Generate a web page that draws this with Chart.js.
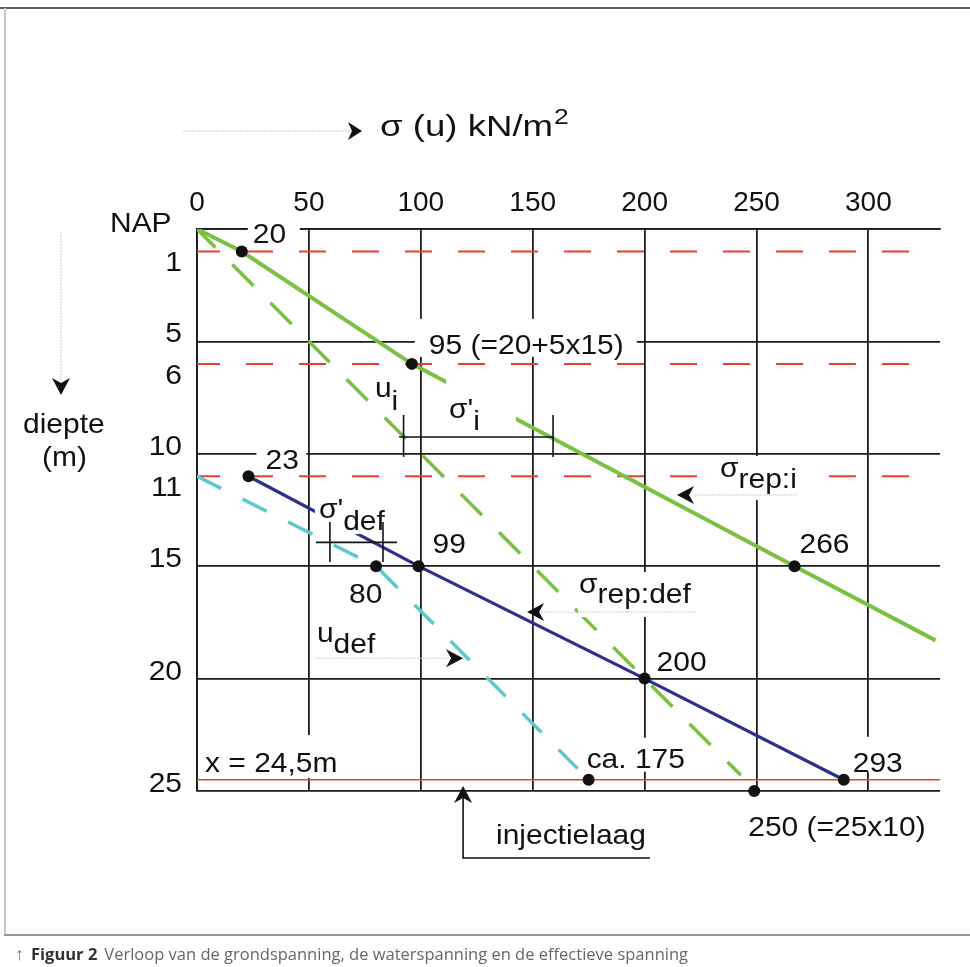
<!DOCTYPE html>
<html lang="nl">
<head>
<meta charset="utf-8">
<title>Figuur 2</title>
<script src="https://cdn.jsdelivr.net/npm/chart.js@4.4.1/dist/chart.umd.min.js"></script>
<style>
html,body{margin:0;padding:0;background:#fff;}
#wrap{position:relative;width:970px;height:967px;overflow:hidden;background:#fff;}
#c{position:absolute;left:0;top:0;}
.frame-top{position:absolute;left:0;top:7px;width:970px;height:2px;background:#5a5a5a;}
.frame-left{position:absolute;left:4px;top:8px;width:2px;height:928px;background:#c8c8c8;}
.frame-bottom{position:absolute;left:4px;top:934px;width:966px;height:2px;background:#8c98a4;}
#caption{position:absolute;left:15px;top:941px;font-family:"Open Sans",sans-serif;font-size:16.5px;color:#666;white-space:nowrap;}
#caption .arr{color:#e9532b;font-size:18px;font-weight:700;}
#caption b{color:#333;font-weight:700;margin:0 7px 0 7px;}
</style>
</head>
<body>
<div id="wrap">
<canvas id="c" width="970" height="967"></canvas>
<div class="frame-top"></div>
<div class="frame-left"></div>
<div class="frame-bottom"></div>
<div id="caption"><span class="arr">↑</span><b>Figuur 2</b>Verloop van de grondspanning, de waterspanning en de effectieve spanning</div>
</div>
<script>
// ---------------- DATA ----------------
const xTickValues = [0, 50, 100, 150, 200, 250, 300];
const depthGrid = [0, 5, 10, 15, 20, 25];
const depthTickValues = [1, 5, 6, 10, 11, 15, 20, 25];
const depthTickLabels = ['1', '5', '6', '10', '11', '15', '20', '25'];
const X_MAX = 332;
const DEPTH_MAX = 25;

// sigma_rep:i (green solid)
const sigmaRepI_x = [0, 20, 96, 267, 330];
const sigmaRepI_d = [0, 1, 6, 15, 18.3];
// u_i (green dashed)
const uI_x = [0, 243];
const uI_d = [0, 24.3];
// sigma_rep:def (blue solid)
const sigmaRepDef_x = [23, 99, 200, 289];
const sigmaRepDef_d = [11, 15, 20, 24.5];
// u_def (cyan dashed)
const uDef_x = [0, 80, 175];
const uDef_d = [11, 15, 24.5];
// water levels (red dashed) and injection layer (red solid)
const waterLevels = [1, 6, 11];
const waterLevelEnd = 319;
const injectionDepth = 24.5;
// marked points
const pointX = [20, 96, 23, 80, 99, 267, 200, 175, 289, 249];
const pointD = [1, 6, 11, 15, 15, 15, 20, 24.5, 24.5, 25];
const pointLabels = ['20', '95 (=20+5x15)', '23', '80', '99', '266', '200', 'ca. 175', '293', '250 (=25x10)'];

// ---------------- STYLE ----------------
const FONT = '"Liberation Sans", Arial, Helvetica, sans-serif';
const FS = 28;
const STRETCH = 1.07;
const GRID = '#1c1c1c';
const GREEN = '#7ac143';
const BLUE = '#2c2f8e';
const CYAN = '#5ec7d0';
const RED = '#e8402e';

// label offsets (px) relative to each marked point: [dx, dy] text left/baseline; optional white box [l,t,r,b]
const pointLabelStyle = [
  {d:[11,-8],  box:[6,-31,58,-8]},
  {d:[17,-10], box:[3,-45,225,-7]},
  {d:[17,-7],  box:[8,-35,58,-5]},
  {d:[-27,37]},
  {d:[14,-13]},
  {d:[5,-13]},
  {d:[12,-8]},
  {d:[-2,-12], box:[-7,-42,105,-8]},
  {d:[9,-8],   box:[4,-43,66,-8]},
  {d:[-6,45]}
];

function lineDS(xs, ds, color, width, dash, order, dashOffset) {
  return {
    data: xs.map((x, i) => ({x: x, y: ds[i]})),
    showLine: true, borderColor: color, backgroundColor: color,
    borderWidth: width, borderDash: dash || [], borderDashOffset: dashOffset || 0,
    pointRadius: 0, pointHoverRadius: 0, fill: false, tension: 0,
    borderCapStyle: 'butt', order: order
  };
}

const datasets = [];
datasets.push({
  data: pointX.map((x, i) => ({x: x, y: pointD[i]})),
  showLine: false, pointRadius: 6, pointHoverRadius: 6,
  pointBackgroundColor: '#111', pointBorderWidth: 0, order: 0, clip: false
});
datasets.push(lineDS(sigmaRepI_x, sigmaRepI_d, GREEN, 4, null, 1));
datasets.push(lineDS(sigmaRepDef_x, sigmaRepDef_d, BLUE, 3.2, null, 1));
datasets.push(lineDS(uI_x, uI_d, GREEN, 3.5, [30, 24], 2, 4));
datasets.push(lineDS(uDef_x, uDef_d, CYAN, 3.5, [27, 24], 2));
waterLevels.forEach(d => datasets.push(lineDS([0, waterLevelEnd], [d, d], RED, 2, [27, 26], 3, 4)));
datasets.push(lineDS([0, X_MAX], [injectionDepth, injectionDepth], RED, 1.6, null, 3));

// ---------------- DRAW HELPERS ----------------
function txt(ctx, s, x, y, size, align, stretch) {
  const k = stretch || STRETCH;
  ctx.font = (size || FS) + 'px ' + FONT;
  const w = ctx.measureText(s).width * k;
  let x0 = x;
  if (align === 'right') x0 = x - w;
  ctx.save(); ctx.translate(x0, y); ctx.scale(k, 1); ctx.textAlign = 'left'; ctx.textBaseline = 'alphabetic';
  ctx.fillText(s, 0, 0); ctx.restore();
  return x0 + w;
}
function rich(ctx, parts, x, y) {
  let cx = x;
  parts.forEach(p => { cx = txt(ctx, p.t, cx, y + (p.dy || 0), p.size); });
  return cx;
}
function head(ctx, tx, ty, ang, L, W, N) {
  ctx.save(); ctx.translate(tx, ty); ctx.rotate(ang);
  ctx.beginPath(); ctx.moveTo(0, 0); ctx.lineTo(-L, -W); ctx.lineTo(-L + N, 0); ctx.lineTo(-L, W); ctx.closePath();
  ctx.fill(); ctx.restore();
}
function faint(ctx, x1, y1, x2, y2) {
  ctx.save(); ctx.strokeStyle = '#cfcfc4'; ctx.lineWidth = 1; ctx.setLineDash([2, 1]);
  ctx.beginPath(); ctx.moveTo(x1, y1); ctx.lineTo(x2, y2); ctx.stroke(); ctx.restore();
}
function seg(ctx, x1, y1, x2, y2, w) {
  ctx.save(); ctx.strokeStyle = '#111'; ctx.lineWidth = w || 1.6;
  ctx.beginPath(); ctx.moveTo(x1, y1); ctx.lineTo(x2, y2); ctx.stroke(); ctx.restore();
}

const annotPlugin = {
  id: 'annot',
  afterDatasetsDraw(chart) {
    const ctx = chart.ctx, xs = chart.scales.x, ys = chart.scales.y;
    const PX = v => xs.getPixelForValue(v), PY = v => ys.getPixelForValue(v);
    ctx.save();
    ctx.fillStyle = '#fff';
    // white boxes for point labels
    pointLabels.forEach((t, i) => {
      const st = pointLabelStyle[i];
      if (!st.box) return;
      const px = PX(pointX[i]), py = PY(pointD[i]);
      ctx.fillRect(px + st.box[0], py + st.box[1], st.box[2] - st.box[0], st.box[3] - st.box[1]);
    });
    // white boxes for symbol labels  [x1,d1,x2,d2] in data units
    const boxes = [
      [111.3, 6.72, 142.5, 9.03],   // sigma'_i
      [230.1, 10.10, 273.0, 12.06], // sigma_rep:i
      [170.2, 15.26, 227.0, 17.26], // sigma_rep:def
      [52.7, 11.97, 86.2, 13.57],   // sigma'_def
      [1.3, 22.51, 66.1, 24.42]     // x = 24,5m
    ];
    boxes.forEach(b => ctx.fillRect(PX(b[0]), PY(b[1]), PX(b[2]) - PX(b[0]), PY(b[3]) - PY(b[1])));

    ctx.fillStyle = '#111';
    // point value labels
    pointLabels.forEach((t, i) => {
      const st = pointLabelStyle[i];
      txt(ctx, t, PX(pointX[i]) + st.d[0], PY(pointD[i]) + st.d[1]);
    });
    // symbol labels
    rich(ctx, [{t: 'u'}, {t: 'i', dy: 13}], PX(79.5), PY(7.47));
    rich(ctx, [{t: "σ'"}, {t: 'i', dy: 12}], PX(112.6), PY(8.41));
    rich(ctx, [{t: 'σ'}, {t: 'rep:i', dy: 11}], PX(233.7), PY(11.03));
    rich(ctx, [{t: 'σ'}, {t: 'rep:def', dy: 10}], PX(170.7), PY(16.19));
    rich(ctx, [{t: "σ'"}, {t: 'def', dy: 12}], PX(54.5), PY(12.86));
    rich(ctx, [{t: 'u'}, {t: 'def', dy: 11}], PX(53.6), PY(18.37));
    txt(ctx, 'x = 24,5m', PX(3.6), PY(24.15));
    txt(ctx, 'injectielaag', PX(133.6), PY(27.36));

    // dimension bars
    const bar = (y, x1, x2, t1, t2, d1, d2) => {
      seg(ctx, PX(x1), PY(y), PX(x2), PY(y), 1.6);
      seg(ctx, PX(t1), PY(d1), PX(t1), PY(d2), 1.6);
      seg(ctx, PX(t2), PY(d1), PX(t2), PY(d2), 1.6);
    };
    bar(9.25, 90.3, 159.1, 92.3, 159.1, 8.27, 10.14);   // sigma'_i
    bar(13.94, 53.2, 89.4, 59.4, 83.1, 13.03, 14.81);   // sigma'_def

    // leader arrows
    faint(ctx, PX(214.5) + 14, PY(11.83), PX(268.1), PY(11.83));
    head(ctx, PX(214.5), PY(11.83), Math.PI, 17, 9, 5);
    faint(ctx, PX(147.5) + 14, PY(17.04), PX(223.4), PY(17.04));
    head(ctx, PX(147.5), PY(17.04), Math.PI, 17, 9, 5);
    faint(ctx, PX(52.7), PY(19.09), PX(118.9) - 14, PY(19.09));
    head(ctx, PX(118.9), PY(19.09), 0, 17, 9, 5);
    // injectielaag bracket
    seg(ctx, PX(118.9), PY(24.78) + 8, PX(118.9), PY(27.98), 1.6);
    seg(ctx, PX(118.9) - 0.8, PY(27.98), PX(202.4), PY(27.98), 1.6);
    head(ctx, PX(118.9), PY(24.78), -Math.PI / 2, 17, 9, 5);

    // axis side texts
    txt(ctx, 'NAP', 110, PY(0) + 3);
    depthTickValues.forEach((v, i) => {
      const off = (v % 5 === 0) ? 1 : 20;
      txt(ctx, depthTickLabels[i], chart.chartArea.left - 15, PY(v) + off, FS, 'right');
    });
    txt(ctx, 'diepte', 23, 433);
    txt(ctx, '(m)', 42, 466);
    faint(ctx, 61, 232, 61, 382);
    head(ctx, 61, 395, Math.PI / 2, 17, 9, 5);
    // title
    faint(ctx, 183, 131, 352, 131);
    head(ctx, 362, 131, 0, 14, 9, 4);
    const e = txt(ctx, 'σ (u) kN/m', 380, 136, 30, 'left', 1.22);
    txt(ctx, '2', e + 1, 124, 22, 'left', 1.2);
    ctx.restore();
  }
};

new Chart(document.getElementById('c'), {
  type: 'scatter',
  data: {datasets: datasets},
  options: {
    responsive: false, animation: false, events: [],
    layout: {padding: {left: 197, right: 30, top: 188, bottom: 176}},
    plugins: {legend: {display: false}, tooltip: {enabled: false}},
    scales: {
      x: {
        type: 'linear', position: 'top', min: 0, max: X_MAX,
        afterBuildTicks: s => { s.ticks = xTickValues.map(v => ({value: v})); },
        afterFit: s => { s.height = 41; },
        ticks: {font: {family: FONT, size: FS}, color: '#111', padding: 9},
        grid: {color: GRID, lineWidth: 1.8, drawTicks: false},
        border: {display: true, color: GRID, width: 1.8}
      },
      y: {
        type: 'linear', reverse: true, min: 0, max: DEPTH_MAX,
        afterBuildTicks: s => { s.ticks = depthGrid.map(v => ({value: v})); },
        afterFit: s => { s.width = 0; },
        ticks: {display: false},
        grid: {color: GRID, lineWidth: 1.8, drawTicks: false},
        border: {display: true, color: GRID, width: 1.8}
      }
    }
  },
  plugins: [annotPlugin]
});
</script>
</body>
</html>
